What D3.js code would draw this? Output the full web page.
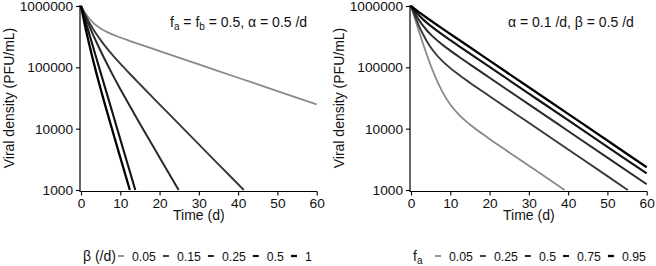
<!DOCTYPE html>
<html>
<head>
<meta charset="utf-8">
<script src="https://cdn.jsdelivr.net/npm/d3@7"></script>
<style>
  body { margin: 0; background: #fff; }
  svg { display: block; font-family: "Liberation Sans", Arial, sans-serif; }
</style>
</head>
<body>
<svg id="chart" width="656" height="266"></svg>
<script>
// ---------- DATA ----------
const xTicks = [0, 10, 20, 30, 40, 50, 60];
const yTicks = [1000, 10000, 100000, 1000000];

// Left panel: f_a = f_b = 0.5, alpha = 0.5 /d ; series by beta
const betaLabels = ["0.05", "0.15", "0.25", "0.5", "1"];
const beta005 = [[0,1000000],[1,778850],[2,636350],[3,541900],[4,477000],[5,430450],[6,395300],[8,344300],[10,306620],[12,275640],[15,236480],[20,183960],[30,111570],[40,67670],[50,41040],[60,24890]];
const beta015 = [[0,1000000],[1,733600],[2,554350],[3,430350],[4,342050],[5,277250],[6,228200],[8,159760],[10,114920],[12,83890],[15,52980],[20,24920],[25,11760],[30,5555],[35,2624],[40,1240],[41.43,1000]];
const beta025 = [[0,1000000],[1,692650],[2,487200],[3,347750],[4,251600],[5,184300],[6,136450],[8,76810],[10,44410],[12,26130],[15,12040],[20,3392],[24.86,1000]];
const beta05  = [[0,1000000],[1,606530],[2,367880],[3,223130],[4,135340],[5,82085],[6,49787],[8,18316],[10,6738],[12,2479],[13.82,1000]];
const beta1   = [[0,1000000],[1,487200],[2,251600],[3,136450],[4,76810],[5,44410],[6,26130],[8,9326],[10,3392],[12,1243],[12.43,1000]];
const leftSeries = [beta005, beta015, beta025, beta05, beta1];

// Right panel: alpha = 0.1 /d, beta = 0.5 /d ; series by f_a
const faLabels = ["0.05", "0.25", "0.5", "0.75", "0.95"];
const fa005 = [[0,1000000],[1,621420],[2,390440],[3,248990],[4,162060],[5,108330],[6,74750],[8,39870],[10,24800],[12,17420],[15,11680],[20,6808],[25,4104],[30,2490],[35,1510],[39.1,1000]];
const fa025 = [[0,1000000],[1,681100],[2,480600],[3,352500],[4,269100],[5,213200],[6,174550],[8,126070],[10,97030],[12,77160],[15,56200],[20,33860],[30,12450],[40,4580],[50,1685],[55.2,1000]];
const fa05  = [[0,1000000],[1,755650],[2,593300],[3,481950],[4,402800],[5,344300],[6,299300],[8,233800],[10,187320],[12,151840],[15,111830],[20,67670],[30,24900],[40,9160],[50,3369],[60,1240]];
const fa075 = [[0,1000000],[1,830200],[2,706000],[3,611380],[4,536530],[5,475420],[6,424050],[8,341560],[10,277610],[12,226520],[15,167470],[20,101480],[30,37340],[40,13740],[50,5054],[60,1859]];
const fa095 = [[0,1000000],[1,889890],[2,796160],[3,714920],[4,643560],[5,580280],[6,523850],[8,427760],[10,349840],[12,286260],[15,211950],[20,128540],[30,47300],[40,17400],[50,6401],[60,2355]];
const rightSeries = [fa005, fa025, fa05, fa075, fa095];

// ---------- STYLE ----------
const colors = ["#8a8a8a", "#383838", "#2a2a2a", "#141414", "#000000"];
const widths = [1.8, 1.9, 2.0, 2.15, 2.3];

const svg = d3.select("#chart");
const FONT = "Liberation Sans, Arial, sans-serif";
const TXT = "#111";

function panel(opts) {
  const x = d3.scaleLinear().domain([0, 60]).range([opts.x0, opts.x1]);
  const y = d3.scaleLog().domain([1000, 1000000]).range([190, 6]);
  const g = svg.append("g");

  // lines
  const line = d3.line().x(d => x(d[0])).y(d => y(d[1])).curve(d3.curveMonotoneX);
  opts.series.forEach((s, i) => {
    g.append("path").datum(s)
      .attr("d", line)
      .attr("fill", "none")
      .attr("stroke", colors[i])
      .attr("stroke-width", widths[i])
      .attr("stroke-linecap", "butt");
  });

  // x axis
  const xAxis = d3.axisBottom(x).tickValues(xTicks).tickSize(4).tickPadding(2.5).tickFormat(d3.format("d"));
  const gx = g.append("g").attr("transform", "translate(0,191.5)").call(xAxis);
  gx.select(".domain").attr("d", `M${opts.x0 - 1},0H${opts.x1 + 0.5}`).attr("stroke", "#000").attr("stroke-width", 1.2);
  gx.selectAll(".tick line").attr("stroke", "#000").attr("stroke-width", 1.1);
  gx.selectAll(".tick text").attr("font-size", 13.7).attr("font-family", FONT).attr("fill", TXT);

  // y axis
  const yAxis = d3.axisLeft(y).tickValues(yTicks).tickSize(4).tickPadding(3).tickFormat(d3.format("d"));
  const gy = g.append("g").attr("transform", `translate(${opts.x0 - 1},0)`).call(yAxis);
  gy.select(".domain").attr("d", "M0,5V192").attr("stroke", "#000").attr("stroke-width", 1.2);
  gy.selectAll(".tick line").attr("stroke", "#000").attr("stroke-width", 1.1);
  gy.selectAll(".tick text").attr("font-size", 13.7).attr("font-family", FONT).attr("fill", TXT);

  // axis titles
  g.append("text").attr("x", (opts.x0 + opts.x1) / 2).attr("y", 220)
    .attr("text-anchor", "middle").attr("font-size", 14).attr("font-family", FONT).attr("fill", TXT)
    .text("Time (d)");
  g.append("text")
    .attr("transform", `translate(${opts.ylabX},98) rotate(-90)`)
    .attr("text-anchor", "middle").attr("font-size", 14).attr("font-family", FONT).attr("fill", TXT)
    .text("Viral density (PFU/mL)");

  // annotation
  const ann = g.append("text").attr("x", opts.annX).attr("y", 27)
    .attr("font-size", 14).attr("font-family", FONT).attr("fill", TXT);
  opts.annotate(ann);

  // legend
  const lg = g.append("g");
  const lt = lg.append("text").attr("x", opts.legTitleX).attr("y", 261)
    .attr("font-size", 14).attr("font-family", FONT).attr("fill", TXT);
  opts.legendTitle(lt);
  let cx = opts.legKeyX;
  opts.labels.forEach((lab, i) => {
    lg.append("line").attr("x1", cx).attr("x2", cx + 6).attr("y1", 256).attr("y2", 256)
      .attr("stroke", colors[i]).attr("stroke-width", widths[i]);
    cx += 6 + 8;
    const t = lg.append("text").attr("x", cx).attr("y", 260.5)
      .attr("font-size", 12.3).attr("font-family", FONT).attr("fill", TXT).text(lab);
    cx += t.node().getComputedTextLength() + 7;
  });
}

panel({
  x0: 81, x1: 316.7, ylabX: 13.5, series: leftSeries, labels: betaLabels,
  annX: 170,
  annotate: t => {
    t.append("tspan").text("f");
    t.append("tspan").attr("font-size", 10).attr("dy", 3).text("a");
    t.append("tspan").attr("dy", -3).text(" = f");
    t.append("tspan").attr("font-size", 10).attr("dy", 3).text("b");
    t.append("tspan").attr("dy", -3).text(" = 0.5, α = 0.5 /d");
  },
  legTitleX: 83, legKeyX: 118,
  legendTitle: t => t.text("β (/d)")
});

panel({
  x0: 411, x1: 646.7, ylabX: 343.5, series: rightSeries, labels: faLabels,
  annX: 508,
  annotate: t => t.text("α = 0.1 /d, β = 0.5 /d"),
  legTitleX: 413, legKeyX: 435,
  legendTitle: t => {
    t.append("tspan").text("f");
    t.append("tspan").attr("font-size", 10).attr("dy", 3).text("a");
  }
});
</script>
</body>
</html>
